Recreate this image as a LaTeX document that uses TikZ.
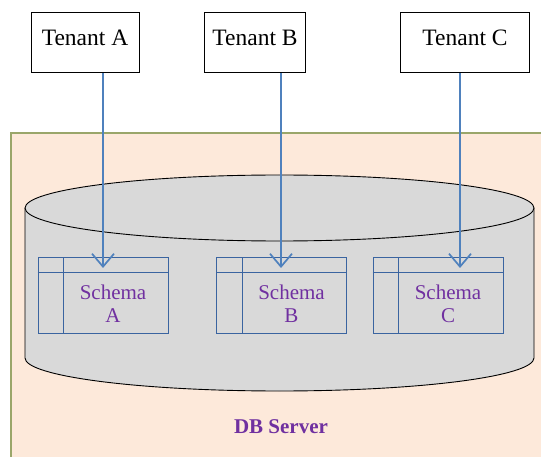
\documentclass[tikz,border=0pt]{standalone}
\usepackage{fontspec}
\setmainfont{Liberation Serif}
\usetikzlibrary{arrows.meta}
\definecolor{peach}{HTML}{FDE9DA}
\definecolor{olive}{HTML}{9AA66A}
\definecolor{cylgray}{HTML}{D9D9D9}
\definecolor{arrowblue}{HTML}{4F81BD}
\definecolor{schemablue}{HTML}{3A64A0}
\definecolor{purp}{HTML}{7030A0}
\tikzset{
  tenant/.style={draw=black, line width=1pt, fill=white, minimum height=60pt, inner sep=0pt, text depth=10pt, font=\fontsize{23.5}{26}\selectfont},
  schemabox/.style={draw=schemablue, line width=1pt, minimum width=130pt, minimum height=75pt, inner sep=0pt},
  schematext/.style={text=purp, font=\fontsize{21}{24}\selectfont, align=center},
  link/.style={draw=arrowblue, line width=1.8pt, -{Straight Barb[length=13pt,width=22pt,line width=1.7pt]}},
}
\begin{document}
\begin{tikzpicture}[x=1pt,y=-1pt]
\useasboundingbox (0,0) rectangle (541,457);
\clip (0,0) rectangle (541,457);
% outer server area
\path[fill=peach, draw=olive, line width=1.2pt] (11,133) rectangle (560,480);
% cylinder
\path[fill=cylgray, draw=black, line width=0.9pt]
  (25,208) -- (25,358) arc[start angle=180, end angle=0, x radius=254.5, y radius=33] -- (534,208);
\path[fill=cylgray, draw=black, line width=0.9pt] (279.5,208) ellipse[x radius=254.5, y radius=33];
% tenants
\node[tenant, minimum width=108pt] (ta) at (85,43) {Tenant A};
\node[tenant, minimum width=101pt] (tb) at (255,43) {Tenant B};
\node[tenant, minimum width=129pt] (tc) at (465,43) {Tenant C};
% schemas
\foreach \n/\cx/\l in {sa/103/A, sb/281.5/B, sc/438/C}{
  \node[schemabox] (\n) at (\cx,295.5) {};
  \draw[schemablue, line width=1pt] ([yshift=-15pt]\n.north west) -- ([yshift=-15pt]\n.north east);
  \draw[schemablue, line width=1pt] ([xshift=26pt]\n.north west) -- ([xshift=26pt]\n.south west);
  \node[schematext] at ([xshift=10pt,yshift=-8pt]\n.center) {Schema\\[-1pt]\l};
}
% arrows
\coordinate (ea) at (103,268);
\coordinate (eb) at (281,268);
\coordinate (ec) at (460,268);
\draw[link] (ta.south -| ea) -- (ea);
\draw[link] (tb.south -| eb) -- (eb);
\draw[link] (tc.south -| ec) -- (ec);
% label
\node[text=purp, font=\bfseries\fontsize{21}{24}\selectfont] (db) at (281,427) {DB Server};
\end{tikzpicture}
\end{document}
